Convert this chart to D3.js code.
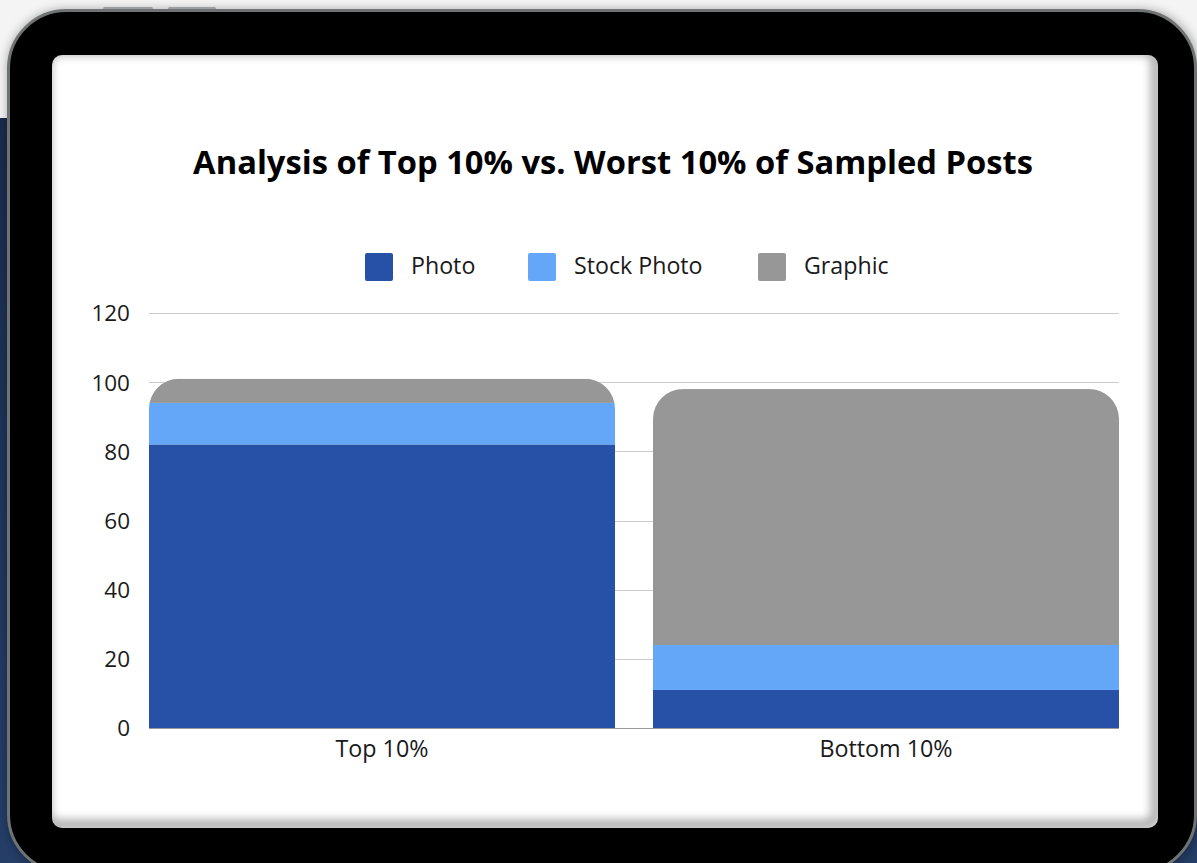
<!DOCTYPE html>
<html>
<head>
<meta charset="utf-8">
<script src="https://cdn.jsdelivr.net/npm/d3@7"></script>
<style>
  html, body { margin: 0; padding: 0; background: #f4f4f4; }
  svg { display: block; }
  text { font-family: "Open Sans", "Noto Sans", sans-serif; }
</style>
</head>
<body>
<svg id="chart" width="1197" height="863"></svg>
<script>
// Share of image types in the best and worst performing posts
const categories = ["Top 10%", "Bottom 10%"];
const seriesNames = ["Photo", "Stock Photo", "Graphic"];
const photo = [82, 11];
const stockPhoto = [12, 13];
const graphic = [7, 74];
const yTicks = [0, 20, 40, 60, 80, 100, 120];
const colors = ["#2651a6", "#64a6f8", "#979797"];
const titleText = "Analysis of Top 10% vs. Worst 10% of Sampled Posts";

const W = 1197, H = 863;
const svg = d3.select("#chart");
const defs = svg.append("defs");

// ---- device backdrop ----
svg.append("rect").attr("width", W).attr("height", H).attr("fill", "#f4f4f4");
const bg = defs.append("linearGradient").attr("id", "bgGrad")
  .attr("x1", 0).attr("y1", 0).attr("x2", 0).attr("y2", 1);
bg.append("stop").attr("offset", 0).attr("stop-color", "#1a2a4c");
bg.append("stop").attr("offset", 1).attr("stop-color", "#253e68");
svg.append("rect").attr("x", 0).attr("y", 118).attr("width", W).attr("height", H - 118)
  .attr("fill", "url(#bgGrad)");

const soft = defs.append("filter").attr("id", "soft").attr("x", -0.1).attr("y", -0.1)
  .attr("width", 1.2).attr("height", 1.2);
soft.append("feGaussianBlur").attr("stdDeviation", 4);
svg.append("rect").attr("x", 6).attr("y", 8).attr("width", 1194).attr("height", 870)
  .attr("rx", 60).attr("fill", "rgba(0,0,0,0.25)").attr("filter", "url(#soft)");

// side buttons on the top edge
svg.selectAll("rect.btn").data([[103, 50], [168, 48]]).join("rect")
  .attr("class", "btn").attr("x", d => d[0]).attr("y", 7).attr("width", d => d[1])
  .attr("height", 3).attr("rx", 1.5).attr("fill", "#9a9ea0");

// bezel
svg.append("rect").attr("x", 8.5).attr("y", 10.5).attr("width", 1187).attr("height", 862)
  .attr("rx", 58).attr("fill", "#000").attr("stroke", "#6f7373").attr("stroke-width", 3);

// screen with a soft inner shadow on its edges
const sx = 52, sy = 55, sw = 1106, sh = 773;
defs.append("clipPath").attr("id", "screenClip")
  .append("rect").attr("x", sx).attr("y", sy).attr("width", sw).attr("height", sh).attr("rx", 10);
svg.append("rect").attr("x", sx).attr("y", sy).attr("width", sw).attr("height", sh)
  .attr("rx", 10).attr("fill", "#fff");
const blurIn = defs.append("filter").attr("id", "blurIn");
blurIn.append("feGaussianBlur").attr("stdDeviation", 5);
svg.append("g").attr("clip-path", "url(#screenClip)")
  .append("rect").attr("x", sx - 6).attr("y", sy - 5).attr("width", sw + 4).attr("height", sh + 2)
  .attr("rx", 12).attr("fill", "none").attr("stroke", "rgba(0,0,0,0.35)").attr("stroke-width", 10)
  .attr("filter", "url(#blurIn)");

// ---- chart ----
const x = d3.scaleBand().domain(categories).range([149, 1119])
  .paddingInner(0.0754).paddingOuter(0);
const y = d3.scaleLinear().domain([0, 120]).range([728, 313]);

svg.append("text").attr("x", 613).attr("y", 174)
  .attr("text-anchor", "middle").attr("font-size", 32.7).attr("font-weight", 700)
  .attr("fill", "#000").text(titleText);

// gridlines
svg.append("g").selectAll("line").data(yTicks.filter(d => d > 0)).join("line")
  .attr("x1", 149).attr("x2", 1119)
  .attr("y1", d => Math.round(y(d)) + 0.5).attr("y2", d => Math.round(y(d)) + 0.5)
  .attr("stroke", "#cccccc").attr("stroke-width", 1);

// y axis labels
const yAxis = svg.append("g").attr("transform", "translate(130,0)")
  .call(d3.axisLeft(y).tickValues(yTicks).tickSize(0).tickPadding(0));
yAxis.select(".domain").remove();
yAxis.selectAll("text").attr("font-size", 22.5).attr("fill", "#1a1a1a")
  .attr("font-family", "'Open Sans', sans-serif").attr("dy", "0.35em");

// stacked bars
const rows = categories.map((c, i) => ({
  cat: c, "Photo": photo[i], "Stock Photo": stockPhoto[i], "Graphic": graphic[i]
}));
const stacked = d3.stack().keys(seriesNames)(rows);
const totals = rows.map(r => seriesNames.reduce((s, k) => s + r[k], 0));
const R = 30;

categories.forEach((c, i) => {
  const x0 = x(c), x1 = x0 + x.bandwidth(), yt = y(totals[i]), yb = y(0);
  const p = d3.path();
  p.moveTo(x0, yb);
  p.lineTo(x0, yt + R);
  p.arcTo(x0, yt, x0 + R, yt, R);
  p.lineTo(x1 - R, yt);
  p.arcTo(x1, yt, x1, yt + R, R);
  p.lineTo(x1, yb);
  p.closePath();
  defs.append("clipPath").attr("id", "barClip" + i).append("path").attr("d", p.toString());
});

svg.append("g").selectAll("g").data(stacked).join("g")
  .attr("fill", (d, i) => colors[i])
  .selectAll("rect").data(d => d.map((v, j) => ({ v, j }))).join("rect")
  .attr("clip-path", d => "url(#barClip" + d.j + ")")
  .attr("x", d => x(categories[d.j]))
  .attr("width", x.bandwidth())
  .attr("y", d => y(d.v[1]))
  .attr("height", d => y(d.v[0]) - y(d.v[1]));

// baseline
svg.append("line").attr("x1", 149).attr("x2", 1119)
  .attr("y1", Math.round(y(0)) + 0.5).attr("y2", Math.round(y(0)) + 0.5)
  .attr("stroke", "#999").attr("stroke-width", 1);

// x axis labels
const xAxis = svg.append("g").attr("transform", "translate(0,737)")
  .call(d3.axisBottom(x).tickSize(0).tickPadding(0));
xAxis.select(".domain").remove();
xAxis.selectAll("text").attr("font-size", 23.3).attr("fill", "#1a1a1a")
  .attr("font-family", "'Open Sans', sans-serif").attr("dy", "0.85em");

// legend
const legendItems = [
  { name: seriesNames[0], color: colors[0], sx: 365 },
  { name: seriesNames[1], color: colors[1], sx: 528 },
  { name: seriesNames[2], color: colors[2], sx: 758 }
];
const lg = svg.append("g").selectAll("g").data(legendItems).join("g")
  .attr("transform", d => `translate(${d.sx},253)`);
lg.append("rect").attr("width", 28).attr("height", 28).attr("rx", 2).attr("fill", d => d.color);
lg.append("text").attr("x", 46).attr("y", 13).attr("dy", "0.35em")
  .attr("font-size", 23.2).attr("fill", "#1a1a1a").text(d => d.name);
</script>
</body>
</html>
